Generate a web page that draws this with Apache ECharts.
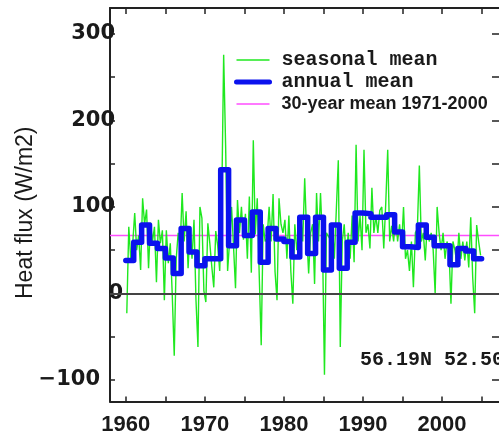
<!DOCTYPE html>
<html><head><meta charset="utf-8">
<script src="https://cdn.jsdelivr.net/npm/echarts@6/dist/echarts.min.js"></script>
<style>html,body{margin:0;padding:0;background:#fff}#c{width:499px;height:439px}</style>
</head><body><div id="c"></div>
<script>
// ---- data ----
const annualYears = [1960,1961,1962,1963,1964,1965,1966,1967,1968,1969,1970,1971,1972,1973,1974,1975,1976,1977,1978,1979,1980,1981,1982,1983,1984,1985,1986,1987,1988,1989,1990,1991,1992,1993,1994,1995,1996,1997,1998,1999,2000,2001,2002,2003,2004];
const annualValues = [38,59,79,58,52,41,23,75,48,32,40,40,143,55,85,67,94,36,75,63,60,42,88,46,88,27,79,29,59,93,92,88,88,91,71,54,53,79,65,55,55,33,52,49,40];
const seasonalStartYear = 1960;
const seasonalValues = [
  -23,77,40,58,   93,50,67,27,   110,80,97,29,  82,60,77,13,   85,58,73,-8,
  73,35,58,-2,    -72,40,70,54,  116,60,95,29,  75,40,85,-8,   -62,100,87,3,
  -10,81,58,31,   7,72,55,26,    100,276,170,26, 60,100,54,6,  108,70,100,62,
  92,40,112,24,   177,68,110,21, -60,80,60,64,  100,60,115,25, -8,110,80,70,
  85,40,90,25,    -12,80,50,50,  90,60,133,69,  23,70,80,11,   116,60,116,60,
  -94,70,70,62,   80,40,42,154,  -62,60,80,38,  70,40,90,36,   172,60,90,50,
  166,70,80,52,   122,70,90,70,  96,100,52,104, 166,60,78,60,  90,60,80,54,
  100,40,50,26,   60,7,70,75,    148,60,70,38,  80,60,70,50,   0,100,70,50,
  70,40,60,50,    -12,60,50,34,  70,40,60,38,   60,30,88,18,   -23,79,60,44
];
const meanValue = 67;
const seriesNames = ['seasonal mean', 'annual mean', '30-year mean 1971-2000'];
const yTickLabels = [-100, 0, 100, 200, 300];
const yMinorTicks = [-100, -50, 0, 50, 100, 150, 200, 250, 300];
const xTickLabels = [1960, 1970, 1980, 1990, 2000];
const xMinorTicks = [1960, 1965, 1970, 1975, 1980, 1985, 1990, 1995, 2000, 2005];
const yTitle = 'Heat flux (W/m2)';
const locationText = '56.19N 52.50W';

// ---- chart ----
const X_MIN = 1958, X_MAX = 2007.2, Y_MIN = -125, Y_MAX = 330;
const seasonalData = seasonalValues.map((v, i) => [seasonalStartYear + (i + 0.5) / 4, v]);
const annualData = annualYears.map((y, i) => [y, annualValues[i]]);
annualData.push([annualYears[annualYears.length - 1] + 1, annualValues[annualValues.length - 1]]);
const meanData = [[X_MIN, meanValue], [X_MAX, meanValue]];

const chart = echarts.init(document.getElementById('c'), null, {renderer: 'canvas'});
const axisCol = '#222';
const tickFont = {fontFamily: 'DejaVu Sans', fontWeight: 'bold', fontSize: 21, color: '#1a1a1a'};

chart.setOption({
  animation: false,
  backgroundColor: '#fff',
  grid: {left: 110, top: 8, width: 390, height: 393.5},
  legend: {
    orient: 'vertical', left: 234, top: 49, padding: 0, itemWidth: 33, itemHeight: 14, itemGap: 0,
    selectedMode: false,
    itemStyle: {opacity: 0},
    textStyle: {fontFamily: 'Liberation Mono', fontWeight: 'bold', fontSize: 20, color: '#1a1a1a', lineHeight: 22, padding: [0, 0, 0, 7]},
    data: [
      {name: seriesNames[0], lineStyle: {width: 1.5}},
      {name: seriesNames[1], lineStyle: {width: 5}},
      {name: seriesNames[2], lineStyle: {width: 1.5}, textStyle: {fontFamily: 'Liberation Sans', fontWeight: 'bold', fontSize: 18, lineHeight: 22, padding: [0, 0, 0, 7]}}
    ]
  },
  xAxis: [{
    type: 'value', min: X_MIN, max: X_MAX, position: 'bottom',
    axisLine: {show: true, onZero: false, lineStyle: {color: axisCol, width: 2}},
    axisTick: {show: true, inside: true, length: 5, customValues: xMinorTicks, lineStyle: {color: axisCol, width: 1.5}},
    axisLabel: Object.assign({customValues: xTickLabels, margin: 12, formatter: v => String(v)}, tickFont, {fontFamily: 'Liberation Sans', fontSize: 22}),
    splitLine: {show: false}
  }, {
    type: 'value', min: X_MIN, max: X_MAX, position: 'top',
    axisLine: {show: true, onZero: false, lineStyle: {color: axisCol, width: 2}},
    axisTick: {show: true, inside: true, length: 6, customValues: xMinorTicks, lineStyle: {color: axisCol, width: 1.5}},
    axisLabel: {show: false}, splitLine: {show: false}
  }],
  yAxis: [{
    type: 'value', min: Y_MIN, max: Y_MAX, position: 'left',
    name: yTitle, nameLocation: 'middle', nameGap: 73, nameMoveOverlap: false,
    nameTextStyle: {fontFamily: 'Liberation Sans', fontSize: 23, color: '#1a1a1a', padding: [0, 16, 0, 0]},
    axisLine: {show: true, onZero: false, lineStyle: {color: axisCol, width: 2}},
    axisTick: {show: true, inside: true, length: 5, customValues: yMinorTicks, lineStyle: {color: axisCol, width: 1.5}},
    axisLabel: Object.assign({
      customValues: yTickLabels, margin: -13,
      formatter: v => v === 0 ? '{z|0}' : (v < 0 ? '{n|' + String(v).replace('-', '\u2212') + '}' : '{p|' + v + '}'),
      rich: {z: {padding: [0, 0, 0, 0]}, p: {padding: [0, 8, 0, 0]}, n: {padding: [0, 23, 0, 0]}}
    }, tickFont),
    splitLine: {show: false}
  }, {
    type: 'value', min: Y_MIN, max: Y_MAX, position: 'right',
    axisLine: {show: false},
    axisTick: {show: true, inside: true, length: 7, customValues: yMinorTicks, lineStyle: {color: axisCol, width: 1.5}},
    axisLabel: {show: false}, splitLine: {show: false}
  }],
  series: [{
    name: seriesNames[2], type: 'line', data: meanData, symbol: 'none', z: 2,
    lineStyle: {color: '#ff4dff', width: 1.5}, itemStyle: {color: '#ff4dff'},
    markLine: {silent: true, symbol: 'none', label: {show: false},
      lineStyle: {color: '#444', width: 2, type: 'solid'}, data: [{yAxis: 0}]}
  }, {
    name: seriesNames[0], type: 'line', data: seasonalData, symbol: 'none', z: 3,
    lineStyle: {color: '#1fe81f', width: 1.4}, itemStyle: {color: '#1fe81f'}
  }, {
    name: seriesNames[1], type: 'line', data: annualData, step: 'end', symbol: 'none', z: 4,
    lineStyle: {color: '#0b12ee', width: 5.5, join: 'round', cap: 'round'}, itemStyle: {color: '#0b12ee'}
  }],
  graphic: [{
    type: 'text', left: 360, top: 350, silent: true,
    style: {text: locationText, fontFamily: 'Liberation Mono', fontWeight: 'bold', fontSize: 20, fill: '#1a1a1a'}
  }]
});
</script>
</body></html>
